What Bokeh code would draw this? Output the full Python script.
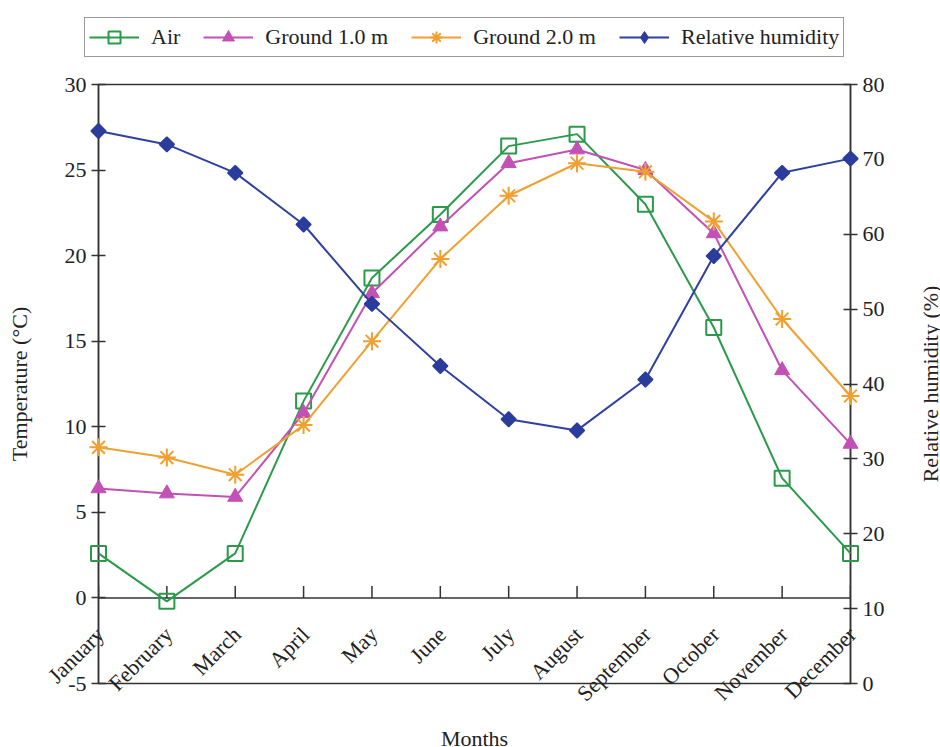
from math import pi
from bokeh.plotting import figure
from bokeh.layouts import column
from bokeh.models import (Range1d, LinearAxis, FixedTicker, Span, Legend, LegendItem,
                          ColumnDataSource, CustomJSTickFormatter)
from bokeh.core.properties import value
from bokeh.embed import file_html
from bokeh.resources import INLINE

months = ["January", "February", "March", "April", "May", "June", "July",
          "August", "September", "October", "November", "December"]
air = [2.6, -0.2, 2.6, 11.5, 18.7, 22.4, 26.4, 27.1, 23.0, 15.8, 7.0, 2.6]
ground_1m = [6.4, 6.1, 5.9, 10.8, 17.8, 21.7, 25.4, 26.2, 25.0, 21.3, 13.3, 9.0]
ground_2m = [8.8, 8.2, 7.2, 10.1, 15.0, 19.8, 23.5, 25.4, 24.9, 22.0, 16.3, 11.8]
rel_humidity = [73.8, 72.0, 68.2, 61.3, 50.7, 42.4, 35.3, 33.8, 40.6, 57.1, 68.2, 70.1]
series_names = ["Air", "Ground 1.0 m", "Ground 2.0 m", "Relative humidity"]
temp_ticks = [-5, 0, 5, 10, 15, 20, 25, 30]
rh_ticks = [0, 10, 20, 30, 40, 50, 60, 70, 80]

FONT = "Liberation Serif"
FS = "22px"
AX = "#333333"
TXT = "#222222"
GREEN = "#2a9a4a"
MAG = "#c350b5"
ORANGE = "#f0a030"
BLUE = "#3040a0"
DBLUE = "#2a3c9c"
idx = list(range(len(months)))

TOP_H = 64


def draw_series(fig, xs, a, g1, g2, rh, rh_range, legend_only=False):
    l1 = fig.line(xs, a, line_color=GREEN, line_width=2, level="overlay")
    s1 = fig.scatter(xs, a, marker="square", size=15, line_color=GREEN, line_width=2,
                     fill_color=None, level="overlay")
    l2 = fig.line(xs, g1, line_color=MAG, line_width=2, level="overlay")
    s2 = fig.scatter(xs, g1, marker="triangle", size=15, line_color=MAG,
                     fill_color=MAG, level="overlay")
    l3 = fig.line(xs, g2, line_color=ORANGE, line_width=2, level="overlay")
    s3 = fig.scatter(xs, g2, marker="asterisk", size=18, line_color=ORANGE,
                     line_width=2, level="overlay")
    kw = {"y_range_name": rh_range} if rh_range else {}
    l4 = fig.line(xs, rh, line_color=BLUE, line_width=2, level="overlay", **kw)
    if legend_only:
        s4 = fig.scatter(xs, rh, marker="diamond", size=16, line_color=DBLUE,
                         fill_color=DBLUE, level="overlay", **kw)
    else:
        s4 = fig.scatter(xs, rh, marker="square", angle=pi / 4, size=10.5,
                         line_color=DBLUE, line_width=1.5, fill_color=DBLUE,
                         level="overlay", **kw)
    return [(l1, s1), (l2, s2), (l3, s3), (l4, s4)]


# ---------------- main chart ----------------
p = figure(width=940, height=747 - TOP_H, x_range=Range1d(0, 11), y_range=Range1d(-5, 30),
           output_backend="svg", toolbar_location=None,
           min_border_left=98, min_border_right=90, min_border_top=84 - TOP_H,
           min_border_bottom=64)
p.extra_y_ranges = {"rh": Range1d(0, 80)}
p.xgrid.visible = False
p.ygrid.visible = False
p.outline_line_color = AX
p.outline_line_width = 1.5
p.background_fill_color = "white"
p.border_fill_color = "white"
p.xaxis.visible = False

plain = CustomJSTickFormatter(code="return String(tick);")

ya = p.yaxis[0]
ya.ticker = FixedTicker(ticks=temp_ticks)
ya.formatter = plain
ya.major_tick_in = 7
ya.major_tick_out = 7
ya.minor_tick_line_color = None
ya.axis_line_color = AX
ya.axis_line_width = 1.5
ya.major_tick_line_color = AX
ya.major_tick_line_width = 1.5
ya.major_label_text_font = FONT
ya.major_label_text_font_size = FS
ya.major_label_text_color = TXT
ya.axis_label = "Temperature (°C)"
ya.axis_label_text_font = FONT
ya.axis_label_text_font_size = FS
ya.axis_label_text_font_style = "normal"
ya.axis_label_text_color = TXT
ya.axis_label_standoff = 30

ra = LinearAxis(y_range_name="rh", ticker=FixedTicker(ticks=rh_ticks), formatter=plain)
ra.major_tick_in = 7
ra.major_tick_out = 7
ra.minor_tick_line_color = None
ra.axis_line_color = AX
ra.axis_line_width = 1.5
ra.major_tick_line_color = AX
ra.major_tick_line_width = 1.5
ra.major_label_text_font = FONT
ra.major_label_text_font_size = FS
ra.major_label_text_color = TXT
p.add_layout(ra, "right")

# category axis drawn at temperature 0
p.add_layout(Span(location=0, dimension="width", line_color=AX, line_width=1.5))
p.ray(x=idx, y=[0] * len(idx), length=12, length_units="screen", angle=pi / 2,
      line_color=AX, line_width=1.5)
lab_src = ColumnDataSource(dict(x=idx, y=[0] * len(idx), month=months))
p.text(x="x", y="y", text="month", source=lab_src, angle=pi / 4,
       text_align="right", text_baseline="top", x_offset=-7, y_offset=24,
       text_font=value(FONT), text_font_size=FS, text_color=TXT, level="overlay")

p.text(x=[5.5], y=[-5], text=["Months"], text_align="center", text_baseline="middle",
       y_offset=55, text_font=value(FONT), text_font_size=FS, text_color=TXT,
       level="overlay")
p.text(x=[11], y=[12.5], text=["Relative humidity (%)"], angle=pi / 2,
       text_align="center", text_baseline="middle", x_offset=80,
       text_font=value(FONT), text_font_size=FS, text_color=TXT, level="overlay")

draw_series(p, idx, air, ground_1m, ground_2m, rel_humidity, "rh")

# ---------------- legend strip ----------------
lg = figure(width=940, height=TOP_H, x_range=Range1d(0, 1), y_range=Range1d(0, 1),
            output_backend="svg", toolbar_location=None,
            min_border_left=0, min_border_right=0, min_border_top=0, min_border_bottom=0)
unaligned = True
try:
    lg.frame_align = False
    p.frame_align = False
except Exception:
    unaligned = False
if not unaligned:
    lg.min_border_left = 98
    lg.min_border_right = 90

lg.xaxis.visible = False
lg.yaxis.visible = False
lg.xgrid.visible = False
lg.ygrid.visible = False
lg.outline_line_color = None
lg.border_fill_color = "white"
pairs = draw_series(lg, [-5], [-5], [-5], [-5], [-5], None, legend_only=True)
legend = Legend(items=[LegendItem(label=n, renderers=list(r)) for n, r in zip(series_names, pairs)],
                orientation="horizontal",
                location=(84, TOP_H - 57) if unaligned else (0, TOP_H - 57),
                glyph_width=50, glyph_height=30, label_standoff=12,
                spacing=23 if unaligned else 19,
                padding=4, margin=0,
                label_text_font=FONT, label_text_font_size=FS, label_text_color=TXT,
                border_line_color=AX, border_line_width=1.5,
                background_fill_color="white", background_fill_alpha=1.0)
lg.add_layout(legend, "center")

layout = column(lg, p, spacing=0)
open("out.html", "w").write(file_html(layout, INLINE))
